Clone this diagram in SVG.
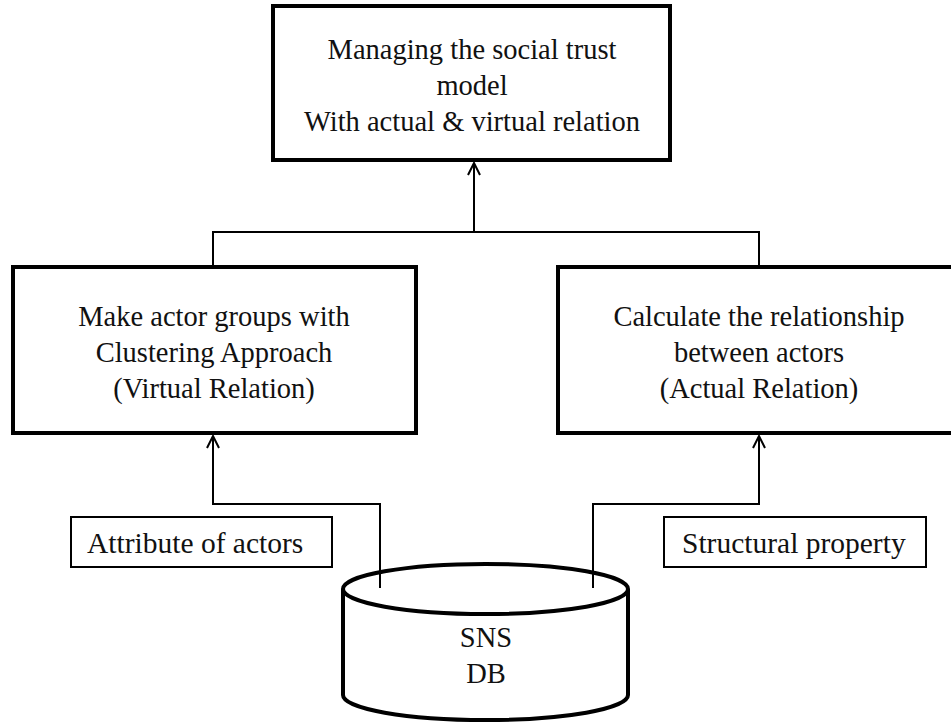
<svg xmlns="http://www.w3.org/2000/svg" width="951" height="722" viewBox="0 0 951 722">
<style>
.box{fill:#fff;stroke:#000;stroke-width:4}
.sbox{fill:#fff;stroke:#000;stroke-width:2}
.cyl{fill:#fff;stroke:#000;stroke-width:4}
.t{font-family:"Liberation Serif","Times New Roman",serif;font-size:28.5px;fill:#111}
.s{font-size:29.5px}
.c{text-anchor:middle}
.ln{fill:none;stroke:#000;stroke-width:2}
</style>
<defs>
<marker id="arr" viewBox="0 0 14 14" refX="13" refY="7" markerWidth="14" markerHeight="14" markerUnits="userSpaceOnUse" orient="auto">
<path d="M1,1 L13,7 L1,13" fill="none" stroke="#000" stroke-width="2"/>
</marker>
</defs>
<rect width="951" height="722" fill="#fff"/>
<g id="top">
<rect class="box" x="273" y="6" width="397" height="154"/>
<text class="t c" x="472" y="59">Managing the social trust</text>
<text class="t c" x="472" y="95">model</text>
<text class="t c" x="472" y="131">With actual &amp; virtual relation</text>
</g>
<g id="left">
<rect class="box" x="13" y="267" width="403" height="166"/>
<text class="t c" x="214" y="326">Make actor groups with</text>
<text class="t c" x="214" y="362">Clustering Approach</text>
<text class="t c" x="214" y="398">(Virtual Relation)</text>
</g>
<g id="right">
<rect class="box" x="558" y="267" width="402" height="166"/>
<text class="t c" x="759" y="326">Calculate the relationship</text>
<text class="t c" x="759" y="362">between actors</text>
<text class="t c" x="759" y="398">(Actual Relation)</text>
</g>
<g id="attr">
<rect class="sbox" x="71" y="517" width="261" height="50"/>
<text class="t s" x="87" y="553">Attribute of actors</text>
</g>
<g id="struct">
<rect class="sbox" x="664" y="517" width="262" height="50"/>
<text class="t s" x="682" y="553">Structural property</text>
</g>
<g id="db">
<path class="cyl" d="M343,589 L343,695 A142.5,25 0 0 0 628,695 L628,589"/>
<ellipse class="cyl" cx="485.5" cy="589" rx="142.5" ry="25"/>
<text class="t c" x="486" y="647">SNS</text>
<text class="t c" x="486" y="683">DB</text>
</g>
<g id="connectors">
<polyline class="ln" points="213,267 213,232 759,232 759,267"/>
<line class="ln" x1="474" y1="232" x2="474" y2="163" marker-end="url(#arr)"/>
<polyline class="ln" points="380,588 380,504 213,504 213,436" marker-end="url(#arr)"/>
<polyline class="ln" points="593,588 593,504 759,504 759,436" marker-end="url(#arr)"/>
</g>
</svg>
